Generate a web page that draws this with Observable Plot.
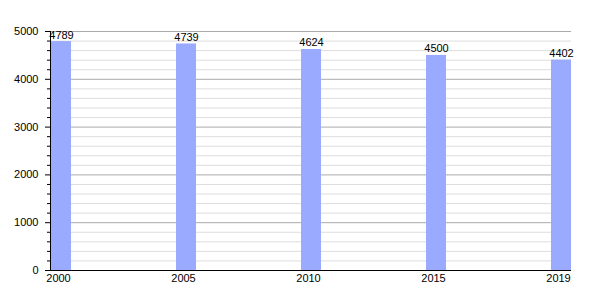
<!DOCTYPE html>
<html>
<head>
<meta charset="utf-8">
<script src="https://cdn.jsdelivr.net/npm/d3@7"></script>
<script src="https://cdn.jsdelivr.net/npm/@observablehq/plot@0.6"></script>
<style>
  html, body { margin: 0; padding: 0; background: #fff; }
  #chart { width: 600px; height: 300px; }
</style>
</head>
<body>
<div id="chart"></div>
<script>
const years = ["2000", "2005", "2010", "2015", "2019"];
const population = [4789, 4739, 4624, 4500, 4402];
const majorTicks = [0, 1000, 2000, 3000, 4000, 5000];
const minorTicks = d3.range(0, 5001, 200).filter(v => v % 1000 !== 0);

const data = years.map((y, i) => ({year: y, value: population[i]}));

const chart = Plot.plot({
  width: 600,
  height: 300,
  marginLeft: 50,
  marginRight: 29,
  marginTop: 31,
  marginBottom: 30,
  style: {fontFamily: "'Liberation Sans', Arial, sans-serif", fontSize: "11px", color: "#000", background: "#fff"},
  x: {type: "band", domain: years, range: [51, 571], paddingInner: 0.84, paddingOuter: 0, align: 0, label: null},
  y: {domain: [0, 5000], range: [270, 31], label: null},
  marks: [
    Plot.gridY(minorTicks, {stroke: "#dddddd", strokeOpacity: 1}),
    Plot.gridY(majorTicks, {stroke: "#aaaaaa", strokeOpacity: 1}),
    Plot.barY(data, {x: "year", y: "value", fill: "#99aaff"}),
    Plot.text(data, {x: "year", y: "value", text: d => String(d.value), lineAnchor: "bottom", dy: -3, fill: "#000"}),
    Plot.axisY(minorTicks, {tickSize: 3, text: null, label: null, stroke: "#000"}),
    Plot.axisY(majorTicks, {tickSize: 5, tickPadding: 7, label: null, tickFormat: d => String(d), stroke: "#000", fill: "#000"}),
    Plot.axisX({tickSize: 0, tickPadding: 4, label: null, fill: "#000", dx: -3}),
    Plot.frame({anchor: "left", stroke: "#000"}),
    Plot.ruleY([0], {stroke: "#000"})
  ]
});
document.getElementById("chart").appendChild(chart);
</script>
</body>
</html>
